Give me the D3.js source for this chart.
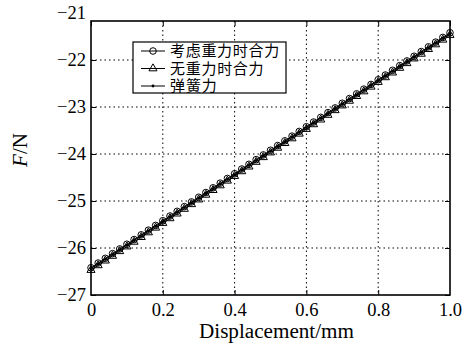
<!DOCTYPE html>
<html>
<head>
<meta charset="utf-8">
<script src="https://cdn.jsdelivr.net/npm/d3@7"></script>
<style>
  body { margin: 0; background: #fff; }
  svg { display: block; }
</style>
</head>
<body>
<svg id="chart" width="475" height="345"></svg>
<script>
const displacement = [
    0.00, 0.02, 0.04, 0.06, 0.08, 0.10, 0.12, 0.14, 0.16, 0.18,
    0.20, 0.22, 0.24, 0.26, 0.28, 0.30, 0.32, 0.34, 0.36, 0.38,
    0.40, 0.42, 0.44, 0.46, 0.48, 0.50, 0.52, 0.54, 0.56, 0.58,
    0.60, 0.62, 0.64, 0.66, 0.68, 0.70, 0.72, 0.74, 0.76, 0.78,
    0.80, 0.82, 0.84, 0.86, 0.88, 0.90, 0.92, 0.94, 0.96, 0.98,
    1.00
];
// 考虑重力时合力
const withGravity = [
    -26.42, -26.32, -26.22, -26.12, -26.02, -25.92, -25.82, -25.72, -25.62, -25.52,
    -25.42, -25.32, -25.22, -25.12, -25.02, -24.92, -24.82, -24.72, -24.62, -24.52,
    -24.42, -24.32, -24.22, -24.12, -24.02, -23.92, -23.82, -23.72, -23.62, -23.52,
    -23.42, -23.32, -23.22, -23.12, -23.02, -22.92, -22.82, -22.72, -22.62, -22.52,
    -22.42, -22.32, -22.22, -22.12, -22.02, -21.92, -21.82, -21.72, -21.62, -21.52,
    -21.42
];
// 无重力时合力
const noGravity = [
    -26.47, -26.37, -26.27, -26.17, -26.07, -25.97, -25.87, -25.77, -25.67, -25.57,
    -25.47, -25.37, -25.27, -25.17, -25.07, -24.97, -24.87, -24.77, -24.67, -24.57,
    -24.47, -24.37, -24.27, -24.17, -24.07, -23.97, -23.87, -23.77, -23.67, -23.57,
    -23.47, -23.37, -23.27, -23.17, -23.07, -22.97, -22.87, -22.77, -22.67, -22.57,
    -22.47, -22.37, -22.27, -22.17, -22.07, -21.97, -21.87, -21.77, -21.67, -21.57,
    -21.47
];
// 弹簧力
const springForce = [
    -26.44, -26.34, -26.24, -26.14, -26.04, -25.94, -25.84, -25.74, -25.64, -25.54,
    -25.44, -25.34, -25.24, -25.14, -25.04, -24.94, -24.84, -24.74, -24.64, -24.54,
    -24.44, -24.34, -24.24, -24.14, -24.04, -23.94, -23.84, -23.74, -23.64, -23.54,
    -23.44, -23.34, -23.24, -23.14, -23.04, -22.94, -22.84, -22.74, -22.64, -22.54,
    -22.44, -22.34, -22.24, -22.14, -22.04, -21.94, -21.84, -21.74, -21.64, -21.54,
    -21.44
];
const xTicks = [0, 0.2, 0.4, 0.6, 0.8, 1.0];
const xTickLabels = ['0', '0.2', '0.4', '0.6', '0.8', '1.0'];
const yTicks = [-27, -26, -25, -24, -23, -22, -21];
const legendLabels = ['考虑重力时合力', '无重力时合力', '弹簧力'];

const plot = { left: 91, right: 450, top: 21, bottom: 295 };
const serif = '"Liberation Serif", "Times New Roman", serif';

const svg = d3.select('#chart');

const x = d3.scaleLinear().domain([0, 1]).range([plot.left, plot.right]);
// label spacing in the picture is ~47px per newton, top frame sits a little below -21
const y = d3.scaleLinear().domain([-27, -21]).range([plot.bottom, plot.bottom - 6 * 47]);

// grid
const grid = svg.append('g').attr('stroke', '#000').attr('stroke-width', 1)
    .attr('stroke-dasharray', '1.5,3');
grid.selectAll('.gx').data(xTicks.slice(1, -1)).join('line')
    .attr('x1', d => x(d)).attr('x2', d => x(d))
    .attr('y1', plot.top).attr('y2', plot.bottom);
grid.selectAll('.gy').data(yTicks.slice(1, -1)).join('line')
    .attr('x1', plot.left).attr('x2', plot.right)
    .attr('y1', d => y(d)).attr('y2', d => y(d));

// axes (ticks pointing inward, like matlab)
const xAxis = svg.append('g').attr('transform', `translate(0,${plot.bottom})`)
    .call(d3.axisBottom(x).tickValues(xTicks).tickFormat((d, i) => xTickLabels[i])
        .tickSizeInner(-5).tickSizeOuter(0).tickPadding(8));
const yAxis = svg.append('g').attr('transform', `translate(${plot.left},0)`)
    .call(d3.axisLeft(y).tickValues(yTicks).tickFormat(d => '\u2212' + Math.abs(d))
        .tickSizeInner(-5).tickSizeOuter(0).tickPadding(5));
// top / right ticks
svg.append('g').attr('transform', `translate(0,${plot.top})`)
    .call(d3.axisTop(x).tickValues(xTicks).tickFormat('').tickSizeInner(-5).tickSizeOuter(0));
svg.append('g').attr('transform', `translate(${plot.right},0)`)
    .call(d3.axisRight(y).tickValues(yTicks.slice(0, -1)).tickFormat('').tickSizeInner(-5).tickSizeOuter(0));
svg.selectAll('.domain').remove();
svg.selectAll('.tick line').attr('stroke', '#000').attr('stroke-width', 1);
svg.selectAll('.tick text').attr('fill', '#000').attr('font-size', 18.5)
    .attr('font-family', serif);
// -21 tick sits above the frame, drop its tick line
yAxis.selectAll('.tick').filter(d => d === -21).select('line').remove();
xAxis.selectAll('.tick').filter(d => d === 0 || d === 1).select('line').remove();

// frame
svg.append('rect')
    .attr('x', plot.left).attr('y', plot.top)
    .attr('width', plot.right - plot.left).attr('height', plot.bottom - plot.top)
    .attr('fill', 'none').attr('stroke', '#000').attr('stroke-width', 1.6);

// series
const line = d3.line().x((d, i) => x(displacement[i])).y(d => y(d));
const series = [withGravity, noGravity, springForce];
const dataLayer = svg.append('g');
series.forEach(s => {
    dataLayer.append('path').datum(s).attr('d', line)
        .attr('fill', 'none').attr('stroke', '#000').attr('stroke-width', 1);
});

const tri = d3.symbol(d3.symbolTriangle, 28);

const drawMarker = (g, kind, cx, cy) => {
    if (kind === 0) {
        g.append('circle').attr('cx', cx).attr('cy', cy).attr('r', 3.3)
            .attr('fill', 'none').attr('stroke', '#000').attr('stroke-width', 1);
    } else if (kind === 1) {
        g.append('path').attr('d', tri).attr('transform', `translate(${cx},${cy})`)
            .attr('fill', 'none').attr('stroke', '#000').attr('stroke-width', 1);
    } else {
        g.append('circle').attr('cx', cx).attr('cy', cy).attr('r', 1.4).attr('fill', '#000');
    }
};

series.forEach((s, k) => {
    s.forEach((v, i) => drawMarker(dataLayer, k, x(displacement[i]), y(v)));
});

// legend
const legend = svg.append('g');
legend.append('rect').attr('x', 133).attr('y', 42).attr('width', 153).attr('height', 51)
    .attr('fill', '#fff').attr('stroke', '#000').attr('stroke-width', 1.2);
legendLabels.forEach((label, k) => {
    const ly = 51 + k * 17.5;
    legend.append('line').attr('x1', 141).attr('x2', 165).attr('y1', ly).attr('y2', ly)
        .attr('stroke', '#000').attr('stroke-width', 1);
    drawMarker(legend, k, 153, ly);
    legend.append('text').attr('x', 170).attr('y', ly).attr('dy', '0.36em')
        .attr('font-family', '"Liberation Serif", "Noto Sans CJK SC", serif').attr('font-size', 15)
        .attr('textLength', label.length * 15.6).attr('lengthAdjust', 'spacing')
        .attr('fill', '#000').text(label);
});

// axis titles
svg.append('text').attr('x', (plot.left + plot.right) / 2 + 6).attr('y', 338)
    .attr('text-anchor', 'middle').attr('font-family', serif)
    .attr('font-size', 20).attr('textLength', 155).attr('lengthAdjust', 'spacingAndGlyphs')
    .text('Displacement/mm');
const yTitle = svg.append('text').attr('transform', 'translate(27,150) rotate(-90)')
    .attr('text-anchor', 'middle').attr('font-family', serif)
    .attr('font-size', 21);
yTitle.append('tspan').attr('font-style', 'italic').text('F');
yTitle.append('tspan').text('/N');
</script>
</body>
</html>
